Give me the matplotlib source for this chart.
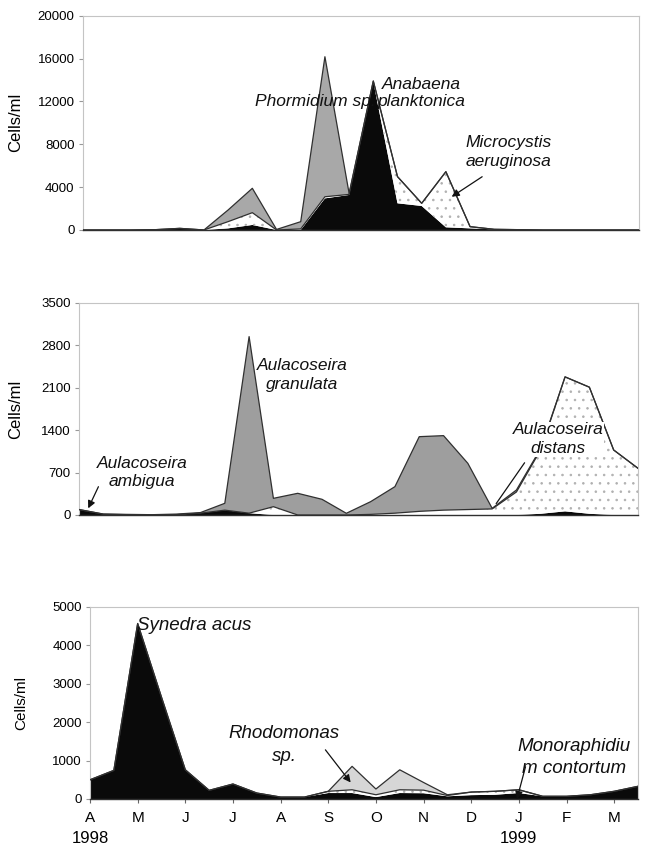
import numpy as np
import matplotlib
matplotlib.use("Agg")
import matplotlib.pyplot as plt

plt.rcParams['font.family'] = ['Liberation Sans', 'DejaVu Sans']
plt.rcParams['hatch.linewidth'] = 0.6

# sampling dates, in months after 1 April 1998 (fortnightly)
months = np.arange(24) * 0.5

# ---- Cyanobacteria (stacked) ----
anabaena    = [0, 0, 0, 30, 150, 0, 150, 470, 0, 0, 2950, 3270, 13840, 2490, 2240, 250, 150, 60, 30, 0, 0, 0, 0, 0]
microcystis = [0, 0, 0, 0, 0, 0, 630, 1145, 0, 100, 150, 50, 60, 2490, 250, 5190, 160, 0, 0, 0, 0, 0, 0, 0]
phormidium  = [0, 0, 0, 0, 0, 0, 1090, 2275, 50, 675, 13070, 100, 0, 0, 0, 0, 0, 0, 0, 0, 0, 0, 0, 0]

# ---- Aulacoseira (stacked) ----
ambigua   = [90, 15, 5, 0, 5, 30, 80, 30, 0, 0, 0, 0, 0, 0, 0, 0, 0, 0, 0, 20, 60, 20, 0, 0]
distans   = [0, 0, 0, 0, 0, 0, 0, 0, 137, 0, 0, 0, 10, 30, 60, 80, 90, 100, 380, 1060, 2220, 2090, 1073, 771]
granulata = [0, 0, 5, 5, 10, 10, 113, 2915, 138, 358, 259, 28, 210, 438, 1233, 1230, 763, 10, 33, 20, 0, 0, 0, 0]

# ---- others (stacked) ----
synedra       = [500, 745, 4570, 2650, 760, 225, 390, 155, 50, 50, 155, 155, 50, 155, 150, 70, 100, 110, 155, 70, 70, 110, 200, 330]
monoraphidium = [0, 0, 0, 0, 0, 0, 0, 0, 0, 0, 45, 85, 60, 85, 80, 20, 80, 90, 85, 0, 0, 0, 0, 0]
rhodomonas    = [0, 0, 0, 0, 0, 0, 0, 0, 0, 0, 0, 610, 150, 520, 200, 20, 0, 0, 0, 0, 0, 0, 0, 0]

month_labels = ['A', 'M', 'J', 'J', 'A', 'S', 'O', 'N', 'D', 'J', 'F', 'M']
year_labels = ['1998', '1999']
yticks_top = [0, 4000, 8000, 12000, 16000, 20000]
yticks_mid = [0, 700, 1400, 2100, 2800, 3500]
yticks_bot = [0, 1000, 2000, 3000, 4000, 5000]

fig = plt.figure(figsize=(6.5, 8.48), dpi=100)
ax1 = fig.add_axes([0.1277, 0.7288, 0.856, 0.2527])
ax2 = fig.add_axes([0.1215, 0.3927, 0.860, 0.2500])
ax3 = fig.add_axes([0.1385, 0.0578, 0.843, 0.2264])

def stack(ax, layers):
    base = np.zeros(len(months))
    for vals, style in layers:
        top = base + np.array(vals, dtype=float)
        kind = style['kind']
        if kind == 'dots':
            ax.fill_between(months, base, top, facecolor='white', edgecolor='#b0b0b0',
                            hatch='..', linewidth=0, zorder=2)
        else:
            ax.fill_between(months, base, top, facecolor=style['color'], linewidth=0, zorder=2)
        if style.get('outline', True):
            ax.plot(months, top, color='#303030', lw=0.9, zorder=3)
        base = top

def style_ax(ax, yticks, ylfs):
    ax.set_xlim(0, 11.5)
    ax.set_ylim(0, yticks[-1])
    ax.set_yticks(yticks)
    ax.set_yticklabels([str(v) for v in yticks], fontsize=9.5)
    for s in ['top', 'right', 'left']:
        ax.spines[s].set_color('#c4c4c4')
        ax.spines[s].set_linewidth(0.8)
    ax.spines['bottom'].set_color('#303030')
    ax.spines['bottom'].set_linewidth(1.0)
    ax.tick_params(axis='y', length=3, color='#999999', pad=3)
    ax.set_ylabel('Cells/ml', fontsize=ylfs)

style_ax(ax1, yticks_top, 12)
style_ax(ax2, yticks_mid, 12)
style_ax(ax3, yticks_bot, 11)
ax1.yaxis.set_label_coords(-0.108, 0.5)
ax2.yaxis.set_label_coords(-0.100, 0.5)
ax3.yaxis.set_label_coords(-0.113, 0.5)

for ax in (ax1, ax2):
    ax.set_xticks([])

stack(ax1, [(anabaena, {'kind': 'fill', 'color': '#0a0a0a', 'outline': False}),
            (microcystis, {'kind': 'dots'}),
            (phormidium, {'kind': 'fill', 'color': '#a8a8a8'})])
stack(ax2, [(ambigua, {'kind': 'fill', 'color': '#0a0a0a', 'outline': False}),
            (distans, {'kind': 'dots'}),
            (granulata, {'kind': 'fill', 'color': '#9e9e9e'})])
stack(ax3, [(synedra, {'kind': 'fill', 'color': '#0a0a0a', 'outline': False}),
            (monoraphidium, {'kind': 'dots'}),
            (rhodomonas, {'kind': 'fill', 'color': '#d6d6d6'})])

ax3.set_xticks(np.arange(len(month_labels)))
ax3.set_xticklabels(month_labels, fontsize=11)
ax3.tick_params(axis='x', length=3, color='#666666', pad=6)
ax3.text(0, -0.165, year_labels[0], transform=ax3.get_xaxis_transform(), ha='center', va='top', fontsize=12)
ax3.text(9, -0.165, year_labels[1], transform=ax3.get_xaxis_transform(), ha='center', va='top', fontsize=12)

it = dict(style='italic', color='#111111', zorder=5)
arrow = dict(arrowstyle='-|>', color='#111111', lw=0.9, mutation_scale=11, shrinkA=0, shrinkB=0)

# top panel labels
ax1.text(3.56, 12000, 'Phormidium sp.', ha='left', va='center', fontsize=12.5, **it)
ax1.text(7.0, 12800, 'Anabaena\nplanktonica', ha='center', va='center', linespacing=1.2, fontsize=12.5, **it)
ax1.text(8.8, 7300, 'Microcystis\naeruginosa', ha='center', va='center', linespacing=1.3, fontsize=12.5, **it)
ax1.annotate('', xy=(7.62, 3100), xytext=(8.25, 4970), arrowprops=arrow, zorder=5, annotation_clip=False)

# middle panel labels
ax2.text(4.59, 2310, 'Aulacoseira\ngranulata', ha='center', va='center', linespacing=1.3, fontsize=12.5, **it)
ax2.text(1.30, 700, 'Aulacoseira\nambigua', ha='center', va='center', linespacing=1.3, fontsize=12.5, **it)
ax2.annotate('', xy=(0.19, 110), xytext=(0.40, 467), arrowprops=arrow, zorder=5, annotation_clip=False)
ax2.text(9.86, 1250, 'Aulacoseira\ndistans', ha='center', va='center', linespacing=1.3, fontsize=12.5,
         bbox=dict(facecolor='white', edgecolor='none', pad=0.5), **it)
ax2.annotate('', xy=(8.55, 150), xytext=(9.2, 900),
             arrowprops=dict(arrowstyle='-', color='#111111', lw=0.9), zorder=6, annotation_clip=False)

# bottom panel labels
ax3.text(0.98, 4520, 'Synedra acus', ha='left', va='center', fontsize=13.5, **it)
ax3.text(4.08, 1400, 'Rhodomonas\nsp.', ha='center', va='center', linespacing=1.5, fontsize=13.5, **it)
ax3.annotate('', xy=(5.47, 430), xytext=(4.94, 1280), arrowprops=arrow, zorder=5, annotation_clip=False)
ax3.text(10.16, 1080, 'Monoraphidiu\nm contortum', ha='center', va='center', linespacing=1.4, fontsize=13.5, **it)
ax3.annotate('', xy=(8.96, 0), xytext=(9.14, 840), arrowprops=arrow, zorder=5, annotation_clip=False)

fig.savefig('out.png', dpi=100)
